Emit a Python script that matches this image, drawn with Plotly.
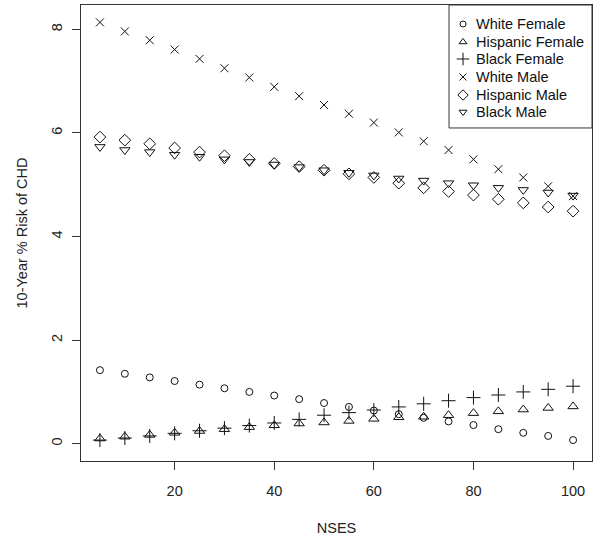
import plotly.graph_objects as go

nses = [5, 10, 15, 20, 25, 30, 35, 40, 45, 50, 55, 60, 65, 70, 75, 80, 85, 90, 95, 100]

white_female = [1.42, 1.35, 1.28, 1.21, 1.14, 1.07, 1.00, 0.93, 0.86, 0.785, 0.71, 0.64, 0.57, 0.50, 0.43, 0.36, 0.28, 0.21, 0.15, 0.07]
hispanic_female = [0.10, 0.135, 0.17, 0.21, 0.245, 0.28, 0.32, 0.355, 0.39, 0.41, 0.44, 0.48, 0.51, 0.52, 0.55, 0.59, 0.625, 0.66, 0.69, 0.72]
black_female = [0.07, 0.11, 0.15, 0.20, 0.25, 0.30, 0.35, 0.40, 0.47, 0.55, 0.60, 0.65, 0.71, 0.77, 0.83, 0.89, 0.94, 1.00, 1.05, 1.11]
white_male = [8.135, 7.96, 7.79, 7.61, 7.43, 7.25, 7.07, 6.89, 6.71, 6.54, 6.37, 6.20, 6.01, 5.84, 5.67, 5.49, 5.30, 5.14, 4.97, 4.78]
hispanic_male = [5.92, 5.86, 5.79, 5.71, 5.63, 5.56, 5.49, 5.41, 5.35, 5.28, 5.21, 5.14, 5.03, 4.94, 4.87, 4.80, 4.72, 4.65, 4.57, 4.49]
black_male = [5.73, 5.67, 5.63, 5.58, 5.54, 5.49, 5.44, 5.39, 5.34, 5.28, 5.23, 5.18, 5.12, 5.08, 5.03, 4.99, 4.94, 4.90, 4.85, 4.79]

x_ticks = [20, 40, 60, 80, 100]
y_ticks = [0, 2, 4, 6, 8]

series_names = ["White Female", "Hispanic Female", "Black Female", "White Male", "Hispanic Male", "Black Male"]
series_values = [white_female, hispanic_female, black_female, white_male, hispanic_male, black_male]
symbols = ["circle-open", "triangle-up-open", "cross-thin-open", "x-thin-open", "diamond-open", "triangle-down-open"]
sizes = [7, 9, 10, 8, 9, 9]
legend_sizes = [6, 7, 9, 7, 8, 7]

FONT = "Liberation Sans, Arial, sans-serif"
INK = "#111111"
FS = 14.5

fig = go.Figure()
for name, vals, sym, size in zip(series_names, series_values, symbols, sizes):
    fig.add_trace(go.Scatter(
        x=nses, y=vals, mode="markers", name=name, showlegend=False,
        marker=dict(symbol=sym, size=size, color=INK, line=dict(color=INK, width=1)),
    ))

# Manual legend (R style box) on an overlay axis in [0,1] units
leg_x0, leg_y0 = 0.7202, 0.7303
sym_x, text_x = 0.7476, 0.772
row_y = [0.9583, 0.9189, 0.8816, 0.8421, 0.8026, 0.7654]
for name, sym, size, ry in zip(series_names, symbols, legend_sizes, row_y):
    fig.add_trace(go.Scatter(
        x=[sym_x], y=[ry], mode="markers", showlegend=False, hoverinfo="skip",
        xaxis="x2", yaxis="y2",
        marker=dict(symbol=sym, size=size, color=INK, line=dict(color=INK, width=1)),
    ))
    fig.add_annotation(x=text_x, y=ry, xref="x2", yref="y2", text=name, showarrow=False,
                       xanchor="left", yanchor="middle", borderpad=0,
                       font=dict(family=FONT, size=FS, color=INK))

fig.add_shape(type="rect", xref="paper", yref="paper", x0=leg_x0, y0=leg_y0, x1=1, y1=1,
              line=dict(color="#333333", width=1), fillcolor="rgba(0,0,0,0)")

axis_common = dict(
    showline=True, linecolor="#333333", linewidth=1, mirror=True,
    ticks="outside", ticklen=8, tickcolor="#333333", tickwidth=1,
    showgrid=False, zeroline=False, automargin=False,
    tickfont=dict(family=FONT, size=FS, color="#222222"),
)

fig.update_layout(
    width=600, height=538,
    margin=dict(l=81, r=8, t=5, b=77),
    paper_bgcolor="white", plot_bgcolor="white",
    font=dict(family=FONT, color="#222222"),
    xaxis=dict(range=[1.2, 103.8], tickvals=x_ticks, ticklabelstandoff=9,
               title=dict(text="NSES", font=dict(size=FS), standoff=24),
               **axis_common),
    yaxis=dict(range=[-0.334, 8.47], tickvals=y_ticks, tickangle=-90,
               ticklabelstandoff=4,
               title=dict(text="10-Year % Risk of CHD", font=dict(size=FS), standoff=18),
               **axis_common),
    xaxis2=dict(overlaying="x", range=[0, 1], visible=False, fixedrange=True),
    yaxis2=dict(overlaying="y", range=[0, 1], visible=False, fixedrange=True),
    showlegend=False,
)

fig.write_html("out.html", config={"displayModeBar": False},
               post_script="document.body.style.margin='0';")
